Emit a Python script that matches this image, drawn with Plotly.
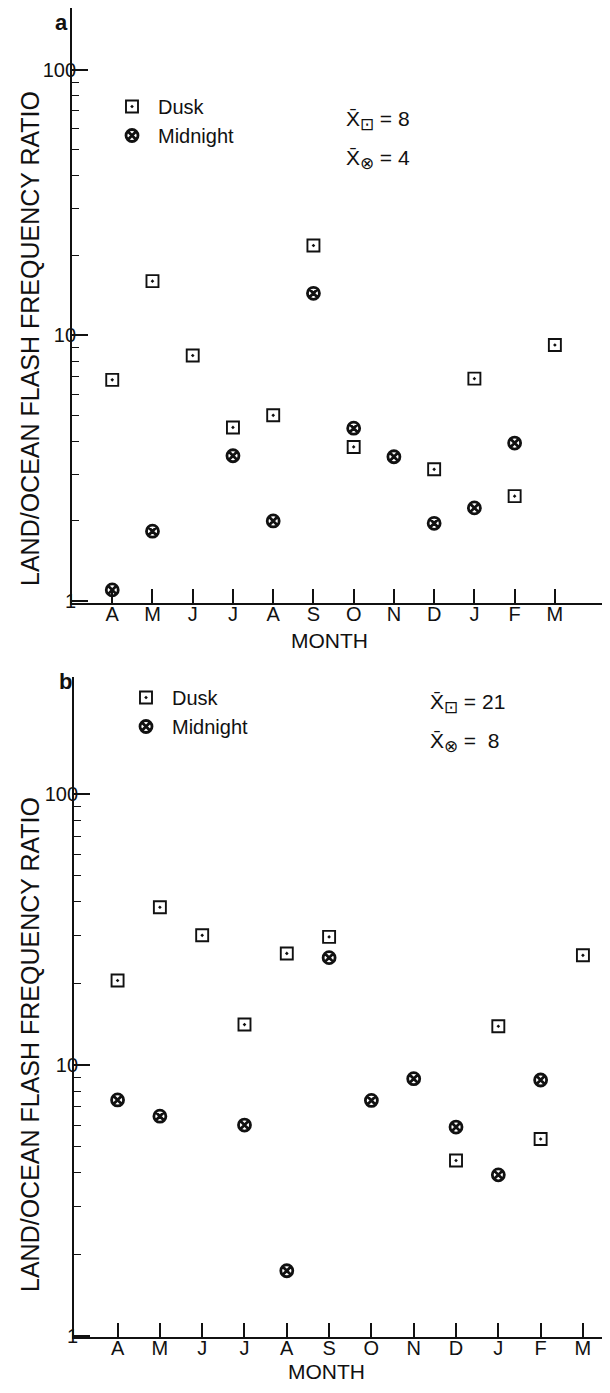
import plotly.graph_objects as go

# ---------------- data ----------------
months = ["A", "M", "J", "J", "A", "S", "O", "N", "D", "J", "F", "M"]
month_pos = list(range(len(months)))

dusk_a = [6.8, 16.0, 8.4, 4.5, 5.0, 21.8, 3.8, None, 3.13, 6.87, 2.48, 9.2]
midnight_a = [1.1, 1.83, None, 3.52, 2.0, 14.4, 4.47, 3.49, 1.96, 2.24, 3.93, None]

dusk_b = [20.5, 38.2, 30.1, 14.1, 25.8, 29.7, None, None, 4.44, 13.9, 5.33, 25.4]
midnight_b = [7.43, 6.47, None, 6.0, 1.74, 24.9, 7.4, 8.9, 5.9, 3.93, 8.8, None]

mean_a = {"dusk": 8, "midnight": 4}
mean_b = {"dusk": 21, "midnight": 8}

major_y = [1, 10, 100]
major_y_text = ["1", "10", "100"]
minor_y = [2, 3, 4, 5, 6, 7, 8, 9, 20, 30, 40, 50, 60, 70, 80, 90]

# ---------------- geometry (page has an 8px body margin) ----------------
OFF = 8
W, H = 602, 1377
FONT = "Liberation Sans, Arial, sans-serif"
BLACK = "#111111"


def px(x):
    return (x - OFF) / W


def py(y):
    return (H - (y - OFF)) / H


fig = go.Figure()

dusk_marker = dict(symbol="square-open-dot", size=12, color=BLACK,
                   line=dict(width=1.9, color=BLACK))
mid_marker = dict(symbol="circle-x-open", size=12, color=BLACK,
                  line=dict(width=2.8, color=BLACK))

fig.add_trace(go.Scatter(x=month_pos, y=dusk_a, mode="markers", name="Dusk",
                         marker=dusk_marker, xaxis="x", yaxis="y", legend="legend"))
fig.add_trace(go.Scatter(x=month_pos, y=midnight_a, mode="markers", name="Midnight",
                         marker=mid_marker, xaxis="x", yaxis="y", legend="legend"))
fig.add_trace(go.Scatter(x=month_pos, y=dusk_b, mode="markers", name="Dusk",
                         marker=dusk_marker, xaxis="x2", yaxis="y2", legend="legend2"))
fig.add_trace(go.Scatter(x=month_pos, y=midnight_b, mode="markers", name="Midnight",
                         marker=mid_marker, xaxis="x2", yaxis="y2", legend="legend2"))

tickfont = dict(family=FONT, size=20, color=BLACK)


def xaxis_cfg(domain, rng, anchor):
    return dict(domain=domain, range=rng, anchor=anchor,
                tickmode="array", tickvals=month_pos, ticktext=months,
                ticks="inside", ticklen=14, tickwidth=1.6, tickcolor=BLACK,
                showline=True, linecolor=BLACK, linewidth=1.8,
                showgrid=False, zeroline=False, tickfont=tickfont,
                ticklabelstandoff=-8)


def yaxis_cfg(domain, rng, anchor):
    return dict(domain=domain, type="log", range=rng, anchor=anchor,
                tickmode="array", tickvals=major_y, ticktext=major_y_text,
                ticks="inside", ticklen=16, tickwidth=1.6, tickcolor=BLACK,
                minor=dict(tickmode="array", tickvals=minor_y, ticks="inside",
                           ticklen=7, tickwidth=1.4, tickcolor=BLACK, showgrid=False),
                showline=True, linecolor=BLACK, linewidth=1.8,
                showgrid=False, zeroline=False, tickfont=tickfont,
                ticklabelstandoff=-10)


legend_font = dict(family=FONT, size=20, color=BLACK)

fig.update_layout(
    width=W, height=H,
    margin=dict(l=0, r=0, t=0, b=0, autoexpand=False),
    paper_bgcolor="white", plot_bgcolor="white",
    font=dict(family=FONT, color=BLACK, size=20),
    xaxis=xaxis_cfg([px(72), 1.0], [-1.0, 12.37], "y"),
    yaxis=yaxis_cfg([py(603), py(8)], [-0.008, 2.233], "x"),
    xaxis2=xaxis_cfg([px(74), 1.0], [-1.03, 11.64], "y2"),
    yaxis2=yaxis_cfg([py(1337), py(677)], [-0.004, 2.432], "x2"),
    legend=dict(x=px(106), y=py(87), xanchor="left", yanchor="top",
                bgcolor="rgba(0,0,0,0)", font=legend_font,
                itemwidth=42, tracegroupgap=0),
    legend2=dict(x=px(120), y=py(678), xanchor="left", yanchor="top",
                 bgcolor="rgba(0,0,0,0)", font=legend_font,
                 itemwidth=42, tracegroupgap=0),
    showlegend=True,
)

ann_font = dict(family=FONT, size=21, color=BLACK)
title_font = dict(family=FONT, size=25, color=BLACK)
SUB_SQ = '<sub><span style="font-size:17px">\u22a1</span></sub>'
SUB_CX = '<sub><span style="font-size:17px">\u2297</span></sub>'
annotations = [
    dict(text="<b>a</b>", x=px(53), y=1.0, xanchor="left", yanchor="top",
         font=dict(family=FONT, size=22, color=BLACK)),
    dict(text="<b>b</b>", x=px(57), y=py(681), xanchor="left", yanchor="middle",
         font=dict(family=FONT, size=22, color=BLACK)),
    dict(text="LAND/OCEAN FLASH FREQUENCY RATIO", x=px(30), y=py(339), textangle=-90,
         xanchor="center", yanchor="middle", font=title_font),
    dict(text="LAND/OCEAN FLASH FREQUENCY RATIO", x=px(30), y=py(1045), textangle=-90,
         xanchor="center", yanchor="middle", font=title_font),
    dict(text="MONTH", x=px(330), y=py(641), xanchor="center", yanchor="middle",
         font=dict(family=FONT, size=21, color=BLACK)),
    dict(text="MONTH", x=px(326), y=0.0, xanchor="center", yanchor="bottom",
         font=dict(family=FONT, size=21, color=BLACK)),
    dict(text="X\u0304" + SUB_SQ + " = %d" % mean_a["dusk"], x=px(344), y=py(121),
         xanchor="left", yanchor="middle", font=ann_font),
    dict(text="X\u0304" + SUB_CX + " = %d" % mean_a["midnight"], x=px(344), y=py(159),
         xanchor="left", yanchor="middle", font=ann_font),
    dict(text="X\u0304" + SUB_SQ + " = %d" % mean_b["dusk"], x=px(428), y=py(703),
         xanchor="left", yanchor="middle", font=ann_font),
    dict(text="X\u0304" + SUB_CX + " =  %d" % mean_b["midnight"], x=px(428), y=py(743),
         xanchor="left", yanchor="middle", font=ann_font),
]
for a in annotations:
    a.update(xref="paper", yref="paper", showarrow=False)
fig.update_layout(annotations=annotations)

fig.write_html("out.html")
